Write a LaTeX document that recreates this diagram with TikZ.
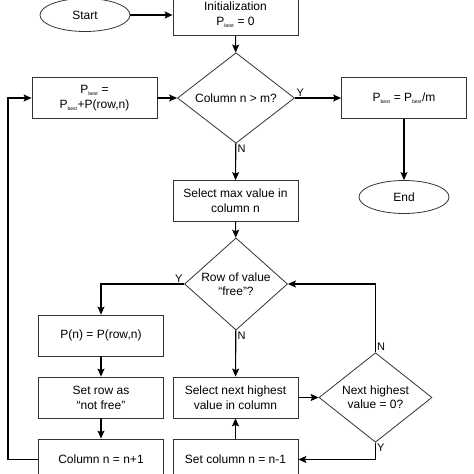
\documentclass[tikz,border=0pt]{standalone}
\usepackage{fontspec}
\setmainfont{Liberation Sans}
\usetikzlibrary{shapes.geometric,arrows.meta}
\newcommand{\Pbest}{P\textsubscript{\fontsize{5}{6}\selectfont best}}

\begin{document}
\begin{tikzpicture}[x=1pt,y=-1pt,
  box/.style={draw=black!80, line width=0.8pt, minimum width=125pt, minimum height=41pt, inner sep=2pt, align=center, font=\fontsize{12}{15}\selectfont},
  oval/.style={ellipse, draw=black!80, line width=0.8pt, minimum width=90pt, minimum height=33pt, inner sep=0pt, font=\fontsize{12}{15}\selectfont},
  choice/.style={diamond, draw=black!80, line width=0.8pt, inner sep=0pt, align=center, font=\fontsize{12}{14}\selectfont},
  flow/.style={line width=1.1pt, -{Stealth[length=8pt,width=7pt,inset=1.5pt]}},
  lbl/.style={inner sep=1.5pt, font=\fontsize{11}{11}\selectfont}]
\useasboundingbox (0,0) rectangle (474,474);

% top row
\node[oval] (start) at (85,15) {Start};
\node[box] (init) at (235.5,15) {Initialization\\ \Pbest{} = 0};

% outer loop
\node[choice, minimum width=117pt, minimum height=81pt] (colm) at (236,98) {Column n > m?};
\node[box] (sum) at (94.5,98) {\Pbest{} =\\ \Pbest{}+P(row,n)};
\node[box] (avg) at (404,98) {\Pbest{} = \Pbest{}/m};
\node[oval] (end) at (404,197) {End};
\node[box] (max) at (235.5,201) {Select max value in\\ column n};

% row check
\node[choice, minimum width=103pt, minimum height=82pt] (free) at (236,284) {Row of value\\ “free”?};
\node[box] (pn) at (101,335.5) {P(n) = P(row,n)};
\node[box] (setrow) at (101,397.5) {Set row as\\ “not free”};
\node[box] (next) at (101,459.5) {Column n = n+1};

% next highest value
\node[box] (nexthigh) at (235.5,397.5) {Select next highest\\ value in column};
\node[choice, minimum width=113pt, minimum height=69pt] (zero) at (375.5,397.5) {Next highest\\ value = 0?};
\node[box] (back) at (235.5,459.5) {Set column n = n-1};

\coordinate (loop) at (8,459.5);

\draw[flow] (start) -- (init);
\draw[flow] (init) -- (colm);
\draw[flow] (sum) -- (colm);
\draw[flow] (colm) -- (avg);
\draw[flow] (avg) -- (end);
\draw[flow] (colm) -- (max);
\draw[flow] (max) -- (free);
\draw[flow] (free.west) -| (pn.north);
\draw[flow] (pn) -- (setrow);
\draw[flow] (setrow) -- (next);
\draw[flow] (next.west) -- (loop) |- (sum.west);
\draw[flow] (free) -- (nexthigh);
\draw[flow] (nexthigh) -- (zero);
\draw[flow] (zero.north) |- (free.east);
\draw[flow] (zero.south) |- (back.east);
\draw[flow] (back) -- (nexthigh);

% Y / N
\node[lbl, anchor=south west] (y1) at (colm.east) {Y};
\node[lbl, anchor=north west] (n1) at (colm.south) {N};
\node[lbl, anchor=south east] (y2) at (free.west) {Y};
\node[lbl, anchor=north west] (n2) at (free.south) {N};
\node[lbl, anchor=south west] (n3) at (zero.north) {N};
\node[lbl, anchor=north west] (y3) at (zero.south) {Y};

\end{tikzpicture}
\end{document}
